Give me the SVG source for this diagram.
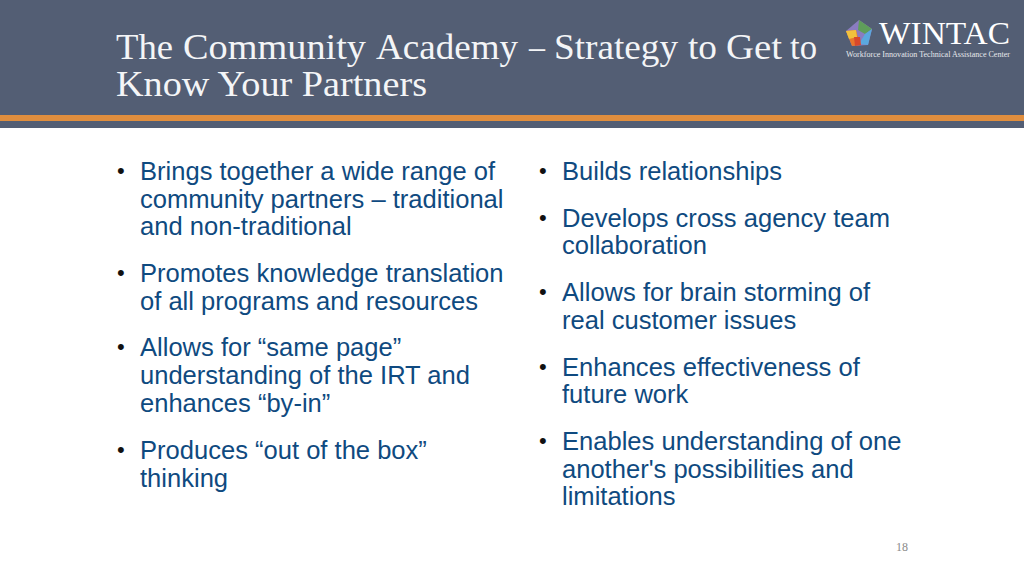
<svg xmlns="http://www.w3.org/2000/svg" width="1024" height="576" viewBox="0 0 1024 576">
<style>
.t{font-family:"Liberation Serif","Times New Roman",serif;font-size:35px;fill:#f4f5f7}
.b{font-family:"Liberation Sans",Arial,sans-serif;font-size:25.55px;fill:#0f4a80}
.d{font-family:"Liberation Sans",Arial,sans-serif;font-size:22px;fill:#111}
</style>
<rect width="1024" height="576" fill="#fff"/>
<rect width="1024" height="128" fill="#535e74"/>
<rect y="115" width="1024" height="6" fill="#e08e3e"/>
<g id="title">
<text class="t" x="116" y="59" textLength="57" lengthAdjust="spacingAndGlyphs">The</text>
<text class="t" x="183" y="59" textLength="183" lengthAdjust="spacingAndGlyphs">Community</text>
<text class="t" x="376" y="59" textLength="142" lengthAdjust="spacingAndGlyphs">Academy</text>
<text class="t" x="529" y="59" textLength="16" lengthAdjust="spacingAndGlyphs">–</text>
<text class="t" x="554" y="59" textLength="124" lengthAdjust="spacingAndGlyphs">Strategy</text>
<text class="t" x="688" y="59" textLength="29" lengthAdjust="spacingAndGlyphs">to</text>
<text class="t" x="726" y="59" textLength="56" lengthAdjust="spacingAndGlyphs">Get</text>
<text class="t" x="790" y="59" textLength="27" lengthAdjust="spacingAndGlyphs">to</text>
<text class="t" x="116" y="96" textLength="311" lengthAdjust="spacingAndGlyphs">Know Your Partners</text>
</g>
<g id="logo">
<polygon points="859,20 872,29 868,45 852,46 846,31" fill="#8a7cc0"/>
<polygon points="859,20 872,29 865,34 858,30" fill="#5f9e5a"/>
<polygon points="872,29 868,45 859,44 865,34" fill="#5aa8de"/>
<polygon points="846,31 856,30 860,45 852,46" fill="#e8762c"/>
<polygon points="846,31 856,30 857,37 849,39" fill="#f2c23c"/>
<polygon points="854,37 860,37 861,45 855,46" fill="#d9482b"/>
<text x="879" y="44" font-family="Liberation Serif,serif" font-size="31" textLength="131" lengthAdjust="spacingAndGlyphs" fill="#fff">WINTAC</text>
<text x="846" y="57" font-family="Liberation Serif,serif" font-size="8.6" textLength="164" lengthAdjust="spacingAndGlyphs" fill="#e6e8ec">Workforce Innovation Technical Assistance Center</text>
</g>
<g id="left">
<text class="d" x="117" y="178">•</text><text class="b" x="140" y="180">Brings together a wide range of</text>
<text class="b" x="140" y="208">community partners – traditional</text>
<text class="b" x="140" y="235">and non-traditional</text>
<text class="d" x="117" y="280">•</text><text class="b" x="140" y="282">Promotes knowledge translation</text>
<text class="b" x="140" y="310">of all programs and resources</text>
<text class="d" x="117" y="354">•</text><text class="b" x="140" y="356">Allows for “same page”</text>
<text class="b" x="140" y="384">understanding of the IRT and</text>
<text class="b" x="140" y="412">enhances “by-in”</text>
<text class="d" x="117" y="457">•</text><text class="b" x="140" y="459">Produces “out of the box”</text>
<text class="b" x="140" y="487">thinking</text>
</g>
<g id="right">
<text class="d" x="539" y="178">•</text><text class="b" x="562" y="180">Builds relationships</text>
<text class="d" x="539" y="225">•</text><text class="b" x="562" y="227">Develops cross agency team</text>
<text class="b" x="562" y="254">collaboration</text>
<text class="d" x="539" y="299">•</text><text class="b" x="562" y="301">Allows for brain storming of</text>
<text class="b" x="562" y="329">real customer issues</text>
<text class="d" x="539" y="374">•</text><text class="b" x="562" y="376">Enhances effectiveness of</text>
<text class="b" x="562" y="403">future work</text>
<text class="d" x="539" y="448">•</text><text class="b" x="562" y="450">Enables understanding of one</text>
<text class="b" x="562" y="478">another's possibilities and</text>
<text class="b" x="562" y="505">limitations</text>
</g>
<text id="page" x="896" y="551" font-family="Liberation Serif,serif" font-size="12" fill="#8a8a8a">18</text>
</svg>
